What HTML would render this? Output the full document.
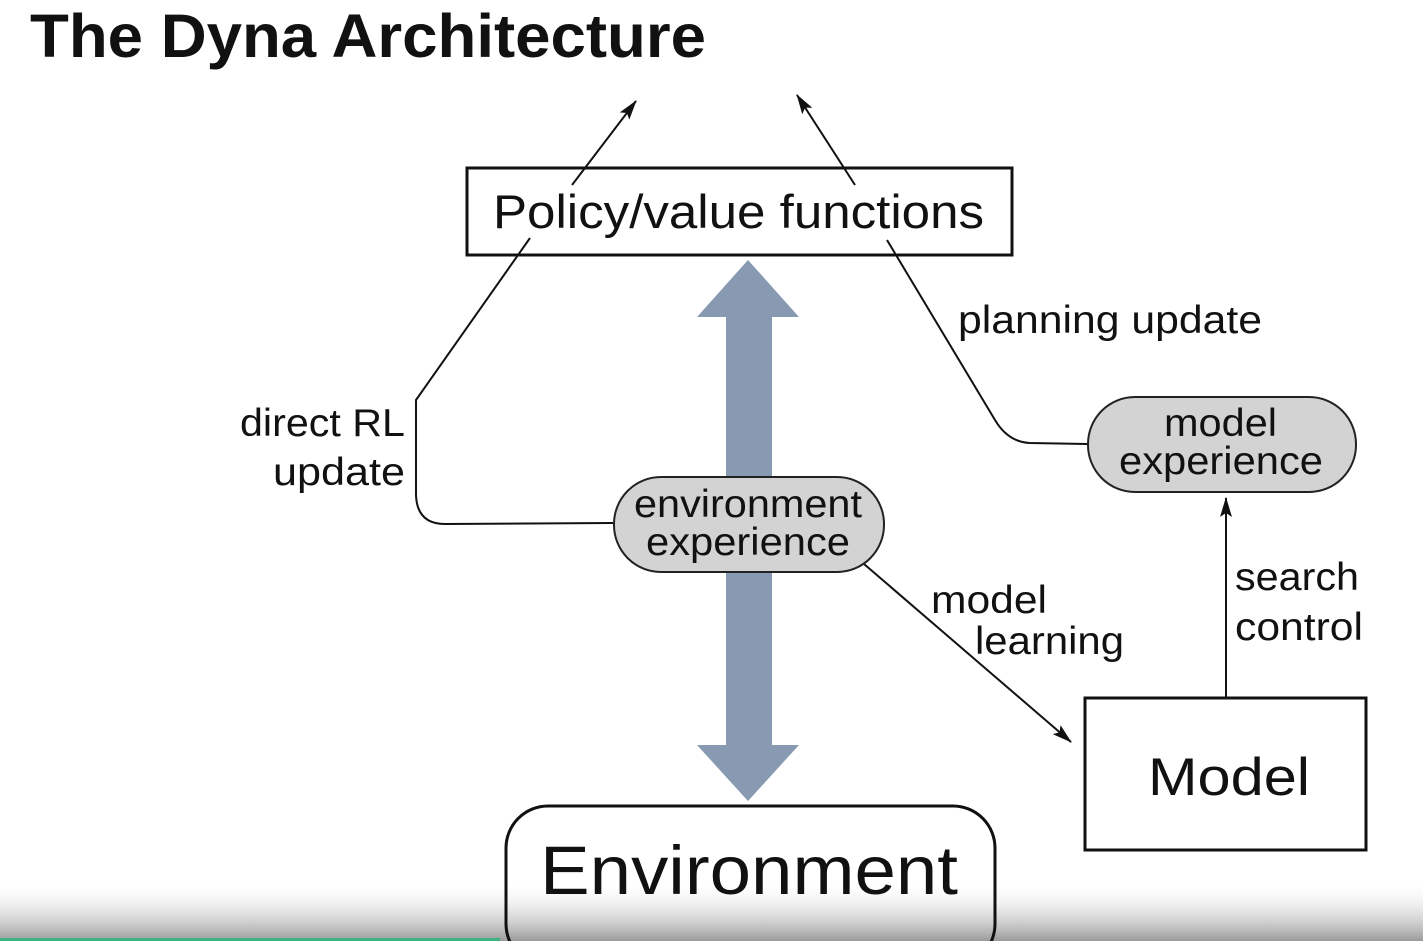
<!DOCTYPE html>
<html><head><meta charset="utf-8"><style>
html,body{margin:0;padding:0;background:#fff;}
svg{display:block;}
text{font-family:"Liberation Sans",sans-serif;fill:#111;}
</style></head><body>
<svg width="1423" height="941" viewBox="0 0 1423 941" xmlns="http://www.w3.org/2000/svg">
<defs>
<linearGradient id="g" x1="0" y1="0" x2="0" y2="1">
<stop offset="0" stop-color="#fff" stop-opacity="0"/>
<stop offset="1" stop-color="#9a9a9a"/>
</linearGradient>
<marker id="b" markerWidth="20" markerHeight="12" refX="19" refY="6" orient="auto" markerUnits="userSpaceOnUse" viewBox="0 0 20 12">
<path d="M0,0 L20,6 L0,12 L4,6 Z" fill="#111"/>
</marker>
</defs>
<text x="30" y="57" font-size="61" font-weight="bold" textLength="676" lengthAdjust="spacingAndGlyphs">The Dyna Architecture</text>

<path d="M748,260 L799,317 L772,317 L772,745 L799,745 L748,801 L697,745 L726,745 L726,317 L697,317 Z" fill="#8899b2"/>

<rect x="467" y="168" width="545" height="87" fill="#fff" stroke="#111" stroke-width="3"/>
<text x="493" y="228" font-size="47" textLength="491" lengthAdjust="spacingAndGlyphs">Policy/value functions</text>

<line x1="572" y1="185" x2="636" y2="101" stroke="#111" stroke-width="2" marker-end="url(#b)"/>
<line x1="855" y1="185" x2="797" y2="95" stroke="#111" stroke-width="2" marker-end="url(#b)"/>

<path d="M613,523 L445,524 Q417,524 416,495 L416,400 L530,238" fill="none" stroke="#111" stroke-width="2"/>
<path d="M1087,444 L1030,443 Q1008,442 995,420 L887,240" fill="none" stroke="#111" stroke-width="2"/>
<line x1="864" y1="564" x2="1071" y2="742" stroke="#111" stroke-width="2" marker-end="url(#b)"/>
<line x1="1226" y1="697" x2="1226" y2="498" stroke="#111" stroke-width="2" marker-end="url(#b)"/>

<rect x="614" y="477" width="270" height="95" rx="47" fill="#d3d3d3" stroke="#222" stroke-width="2"/>
<text x="634" y="517" font-size="39" textLength="228" lengthAdjust="spacingAndGlyphs">environment</text>
<text x="646" y="555" font-size="39" textLength="204" lengthAdjust="spacingAndGlyphs">experience</text>

<rect x="1088" y="397" width="268" height="95" rx="47" fill="#d3d3d3" stroke="#222" stroke-width="2"/>
<text x="1164" y="436" font-size="39" textLength="113" lengthAdjust="spacingAndGlyphs">model</text>
<text x="1119" y="474" font-size="39" textLength="204" lengthAdjust="spacingAndGlyphs">experience</text>

<text x="958" y="333" font-size="39" textLength="304" lengthAdjust="spacingAndGlyphs">planning update</text>
<text x="240" y="436" font-size="39" textLength="165" lengthAdjust="spacingAndGlyphs">direct RL</text>
<text x="273" y="485" font-size="39" textLength="132" lengthAdjust="spacingAndGlyphs">update</text>
<text x="931" y="613" font-size="39" textLength="116" lengthAdjust="spacingAndGlyphs">model</text>
<text x="975" y="654" font-size="39" textLength="149" lengthAdjust="spacingAndGlyphs">learning</text>
<text x="1235" y="590" font-size="39" textLength="124" lengthAdjust="spacingAndGlyphs">search</text>
<text x="1235" y="640" font-size="39" textLength="128" lengthAdjust="spacingAndGlyphs">control</text>

<rect x="1085" y="698" width="281" height="152" fill="#fff" stroke="#111" stroke-width="3"/>
<text x="1148" y="795" font-size="53" textLength="162" lengthAdjust="spacingAndGlyphs">Model</text>

<rect x="0" y="880" width="1423" height="61" fill="url(#g)"/>
<rect x="0" y="938" width="500" height="3" fill="#3cb482"/>

<rect x="506" y="806" width="489" height="160" rx="42" fill="none" stroke="#111" stroke-width="3"/>
<text x="540" y="894" font-size="69" textLength="418" lengthAdjust="spacingAndGlyphs">Environment</text>
</svg>
</body></html>
